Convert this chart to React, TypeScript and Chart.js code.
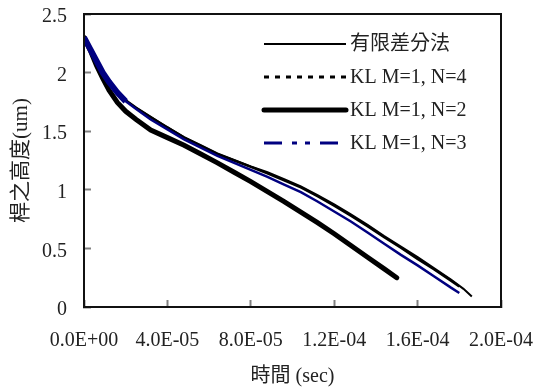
import React, { useEffect, useRef } from 'react';
import { Chart, registerables } from 'chart.js';

Chart.register(...registerables);

// Axis ticks
const xTickValues = [0, 4e-5, 8e-5, 1.2e-4, 1.6e-4, 2e-4];
const xTickLabels = ['0.0E+00', '4.0E-05', '8.0E-05', '1.2E-04', '1.6E-04', '2.0E-04'];
const yTickValues = [0, 0.5, 1, 1.5, 2, 2.5];
const yTickLabels = ['0', '0.5', '1', '1.5', '2', '2.5'];

const seriesNames = ['有限差分法', 'KL M=1, N=4', 'KL M=1, N=2', 'KL M=1, N=3'];

// 有限差分法
const timeFD = [0, 0.3e-5, 0.6e-5, 0.9e-5, 1.2e-5, 1.6e-5, 2.0e-5, 2.5e-5, 3.2e-5, 4.0e-5, 4.8e-5, 5.6e-5, 6.4e-5, 7.2e-5, 8.0e-5, 8.8e-5, 9.6e-5, 10.4e-5, 11.2e-5, 12.0e-5, 12.8e-5, 13.6e-5, 14.4e-5, 15.2e-5, 16.0e-5, 16.8e-5, 17.6e-5, 18.2e-5, 18.6e-5];
const heightFD = [2.30, 2.20, 2.09, 1.99, 1.91, 1.83, 1.76, 1.70, 1.62, 1.535, 1.45, 1.38, 1.31, 1.255, 1.20, 1.15, 1.09, 1.03, 0.955, 0.875, 0.79, 0.70, 0.605, 0.515, 0.425, 0.33, 0.235, 0.155, 0.09];

// KL M=1, N=4
const timeN4 = [0, 0.3e-5, 0.6e-5, 0.9e-5, 1.2e-5, 1.6e-5, 2.0e-5, 2.5e-5, 3.2e-5, 4.0e-5, 4.8e-5, 5.6e-5, 6.4e-5, 7.2e-5, 8.0e-5, 8.8e-5, 9.6e-5, 10.4e-5, 11.2e-5, 12.0e-5, 12.8e-5, 13.6e-5, 14.4e-5, 15.2e-5, 16.0e-5, 16.8e-5, 17.6e-5, 18.0e-5];
const heightN4 = [2.30, 2.20, 2.09, 1.99, 1.91, 1.83, 1.765, 1.70, 1.62, 1.53, 1.445, 1.375, 1.305, 1.25, 1.195, 1.14, 1.08, 1.02, 0.945, 0.865, 0.78, 0.69, 0.595, 0.505, 0.41, 0.32, 0.225, 0.175];

// KL M=1, N=2
const timeN2 = [0, 0.3e-5, 0.6e-5, 0.9e-5, 1.2e-5, 1.6e-5, 2.0e-5, 2.5e-5, 3.2e-5, 4.0e-5, 4.8e-5, 5.6e-5, 6.4e-5, 7.2e-5, 8.0e-5, 8.8e-5, 9.6e-5, 10.4e-5, 11.2e-5, 12.0e-5, 12.8e-5, 13.6e-5, 14.4e-5, 15.0e-5];
const heightN2 = [2.30, 2.19, 2.06, 1.95, 1.85, 1.745, 1.67, 1.60, 1.51, 1.445, 1.38, 1.305, 1.23, 1.15, 1.07, 0.985, 0.90, 0.81, 0.72, 0.625, 0.525, 0.425, 0.325, 0.25];

// KL M=1, N=3
const timeN3 = [0, 0.3e-5, 0.6e-5, 0.9e-5, 1.2e-5, 1.6e-5, 2.0e-5, 2.5e-5, 3.2e-5, 4.0e-5, 4.8e-5, 5.6e-5, 6.4e-5, 7.2e-5, 8.0e-5, 8.8e-5, 9.6e-5, 10.4e-5, 11.2e-5, 12.0e-5, 12.8e-5, 13.6e-5, 14.4e-5, 15.2e-5, 16.0e-5, 16.8e-5, 17.6e-5, 18.0e-5];
const heightN3 = [2.30, 2.20, 2.10, 2.00, 1.92, 1.83, 1.755, 1.69, 1.60, 1.515, 1.43, 1.36, 1.29, 1.23, 1.17, 1.11, 1.045, 0.98, 0.90, 0.815, 0.73, 0.635, 0.54, 0.445, 0.355, 0.26, 0.165, 0.12];

const FONT = "'Liberation Serif', 'Noto Sans CJK TC', serif";
const NAVY = '#000080';
const TEXT = '#222';
const FRAME = '#111';
const TICK = '#808080';

const toPoints = (xs: number[], ys: number[]) => xs.map((x, i) => ({ x, y: ys[i] }));

const legendStyles = [
  { color: '#000', width: 2, dash: [] as number[], cap: 'butt' as CanvasLineCap },
  { color: '#000', width: 3, dash: [5, 6], cap: 'butt' as CanvasLineCap },
  { color: '#000', width: 5, dash: [] as number[], cap: 'round' as CanvasLineCap },
  { color: NAVY, width: 3, dash: [18, 10, 5, 8, 5, 10], cap: 'butt' as CanvasLineCap },
];

const legendPlugin = {
  id: 'plotLegend',
  afterDraw(chart: any) {
    const ctx: CanvasRenderingContext2D = chart.ctx;
    const ys = [44, 77, 110, 143];
    ctx.save();
    ctx.font = `20px ${FONT}`;
    ctx.textBaseline = 'middle';
    ctx.textAlign = 'left';
    seriesNames.forEach((name, i) => {
      const st = legendStyles[i];
      ctx.beginPath();
      ctx.strokeStyle = st.color;
      ctx.lineWidth = st.width;
      ctx.lineCap = st.cap;
      ctx.setLineDash(st.dash);
      ctx.moveTo(264, ys[i]);
      ctx.lineTo(346, ys[i]);
      ctx.stroke();
      ctx.setLineDash([]);
      ctx.fillStyle = TEXT;
      ctx.fillText(name, 350, ys[i] + 1);
    });
    // top and right edges of the plot frame
    const a = chart.chartArea;
    ctx.strokeStyle = FRAME;
    ctx.lineWidth = 2;
    ctx.lineCap = 'square';
    ctx.beginPath();
    ctx.moveTo(a.left, a.top);
    ctx.lineTo(a.right, a.top);
    ctx.lineTo(a.right, a.bottom);
    ctx.stroke();
    ctx.restore();
  },
};

export default function App() {
  const ref = useRef<HTMLCanvasElement | null>(null);
  useEffect(() => {
    if (!ref.current) return;
    const chart = new Chart(ref.current, {
      type: 'scatter',
      data: {
        datasets: [
          {
            label: seriesNames[3],
            data: toPoints(timeN3, heightN3),
            showLine: true,
            borderColor: NAVY,
            borderWidth: 2.5,
            pointRadius: 0,
            order: 0,
            segment: {
              borderWidth: (c: any) => (c.p0.parsed.x < 1.9e-5 ? 6 : 2.5),
            },
          },
          {
            label: seriesNames[0],
            data: toPoints(timeFD, heightFD),
            showLine: true,
            borderColor: '#000',
            borderWidth: 2,
            pointRadius: 0,
            order: 1,
          },
          {
            label: seriesNames[1],
            data: toPoints(timeN4, heightN4),
            showLine: true,
            borderColor: '#000',
            borderWidth: 2.5,
            pointRadius: 0,
            order: 2,
          },
          {
            label: seriesNames[2],
            data: toPoints(timeN2, heightN2),
            showLine: true,
            borderColor: '#000',
            borderWidth: 5,
            borderCapStyle: 'round',
            pointRadius: 0,
            order: 3,
          },
        ],
      },
      options: {
        animation: false,
        responsive: false,
        layout: { padding: { top: 14, right: 34, left: 0, bottom: 0 } },
        plugins: { legend: { display: false }, tooltip: { enabled: false } },
        scales: {
          x: {
            type: 'linear',
            position: 'bottom',
            min: 0,
            max: 2e-4,
            grid: {
              display: true,
              drawOnChartArea: false,
              drawTicks: true,
              tickLength: -7,
              tickColor: TICK,
              tickWidth: 2,
              color: TICK,
            },
            border: { display: true, color: FRAME, width: 2, z: 1 },
            afterBuildTicks: (s: any) => {
              s.ticks = xTickValues.map((v) => ({ value: v }));
            },
            afterFit: (s: any) => {
              s.height = 85;
              s.paddingLeft = 0;
              s.paddingRight = 0;
            },
            ticks: {
              autoSkip: false,
              maxRotation: 0,
              padding: 29,
              color: TEXT,
              font: { family: FONT, size: 20 },
              callback: (_v: any, i: number) => xTickLabels[i],
            },
            title: {
              display: true,
              text: '時間 (sec)',
              color: TEXT,
              font: { family: FONT, size: 20 },
              padding: { top: 0, bottom: 3 },
            },
          },
          y: {
            type: 'linear',
            position: 'left',
            min: 0,
            max: 2.5,
            grid: {
              display: true,
              drawOnChartArea: false,
              drawTicks: true,
              tickLength: -7,
              tickColor: TICK,
              tickWidth: 2,
              color: TICK,
            },
            border: { display: true, color: FRAME, width: 2, z: 1 },
            afterBuildTicks: (s: any) => {
              s.ticks = yTickValues.map((v) => ({ value: v }));
            },
            afterFit: (s: any) => {
              s.width = 84;
              s.paddingTop = 0;
              s.paddingBottom = 0;
            },
            ticks: {
              autoSkip: false,
              padding: 24,
              labelOffset: 3,
              color: TEXT,
              font: { family: FONT, size: 20 },
              callback: (_v: any, i: number) => yTickLabels[i],
            },
            title: {
              display: true,
              text: '桿之高度(um)',
              color: TEXT,
              font: { family: FONT, size: 21 },
              padding: { top: 9, bottom: 0 },
            },
          },
        },
      },
      plugins: [legendPlugin],
    });
    return () => chart.destroy();
  }, []);
  return (
    <div style={{ position: 'absolute', left: 0, top: 0, width: 535, height: 392, background: '#fff' }}>
      <canvas ref={ref} width={535} height={392} style={{ width: 535, height: 392 }} />
    </div>
  );
}
